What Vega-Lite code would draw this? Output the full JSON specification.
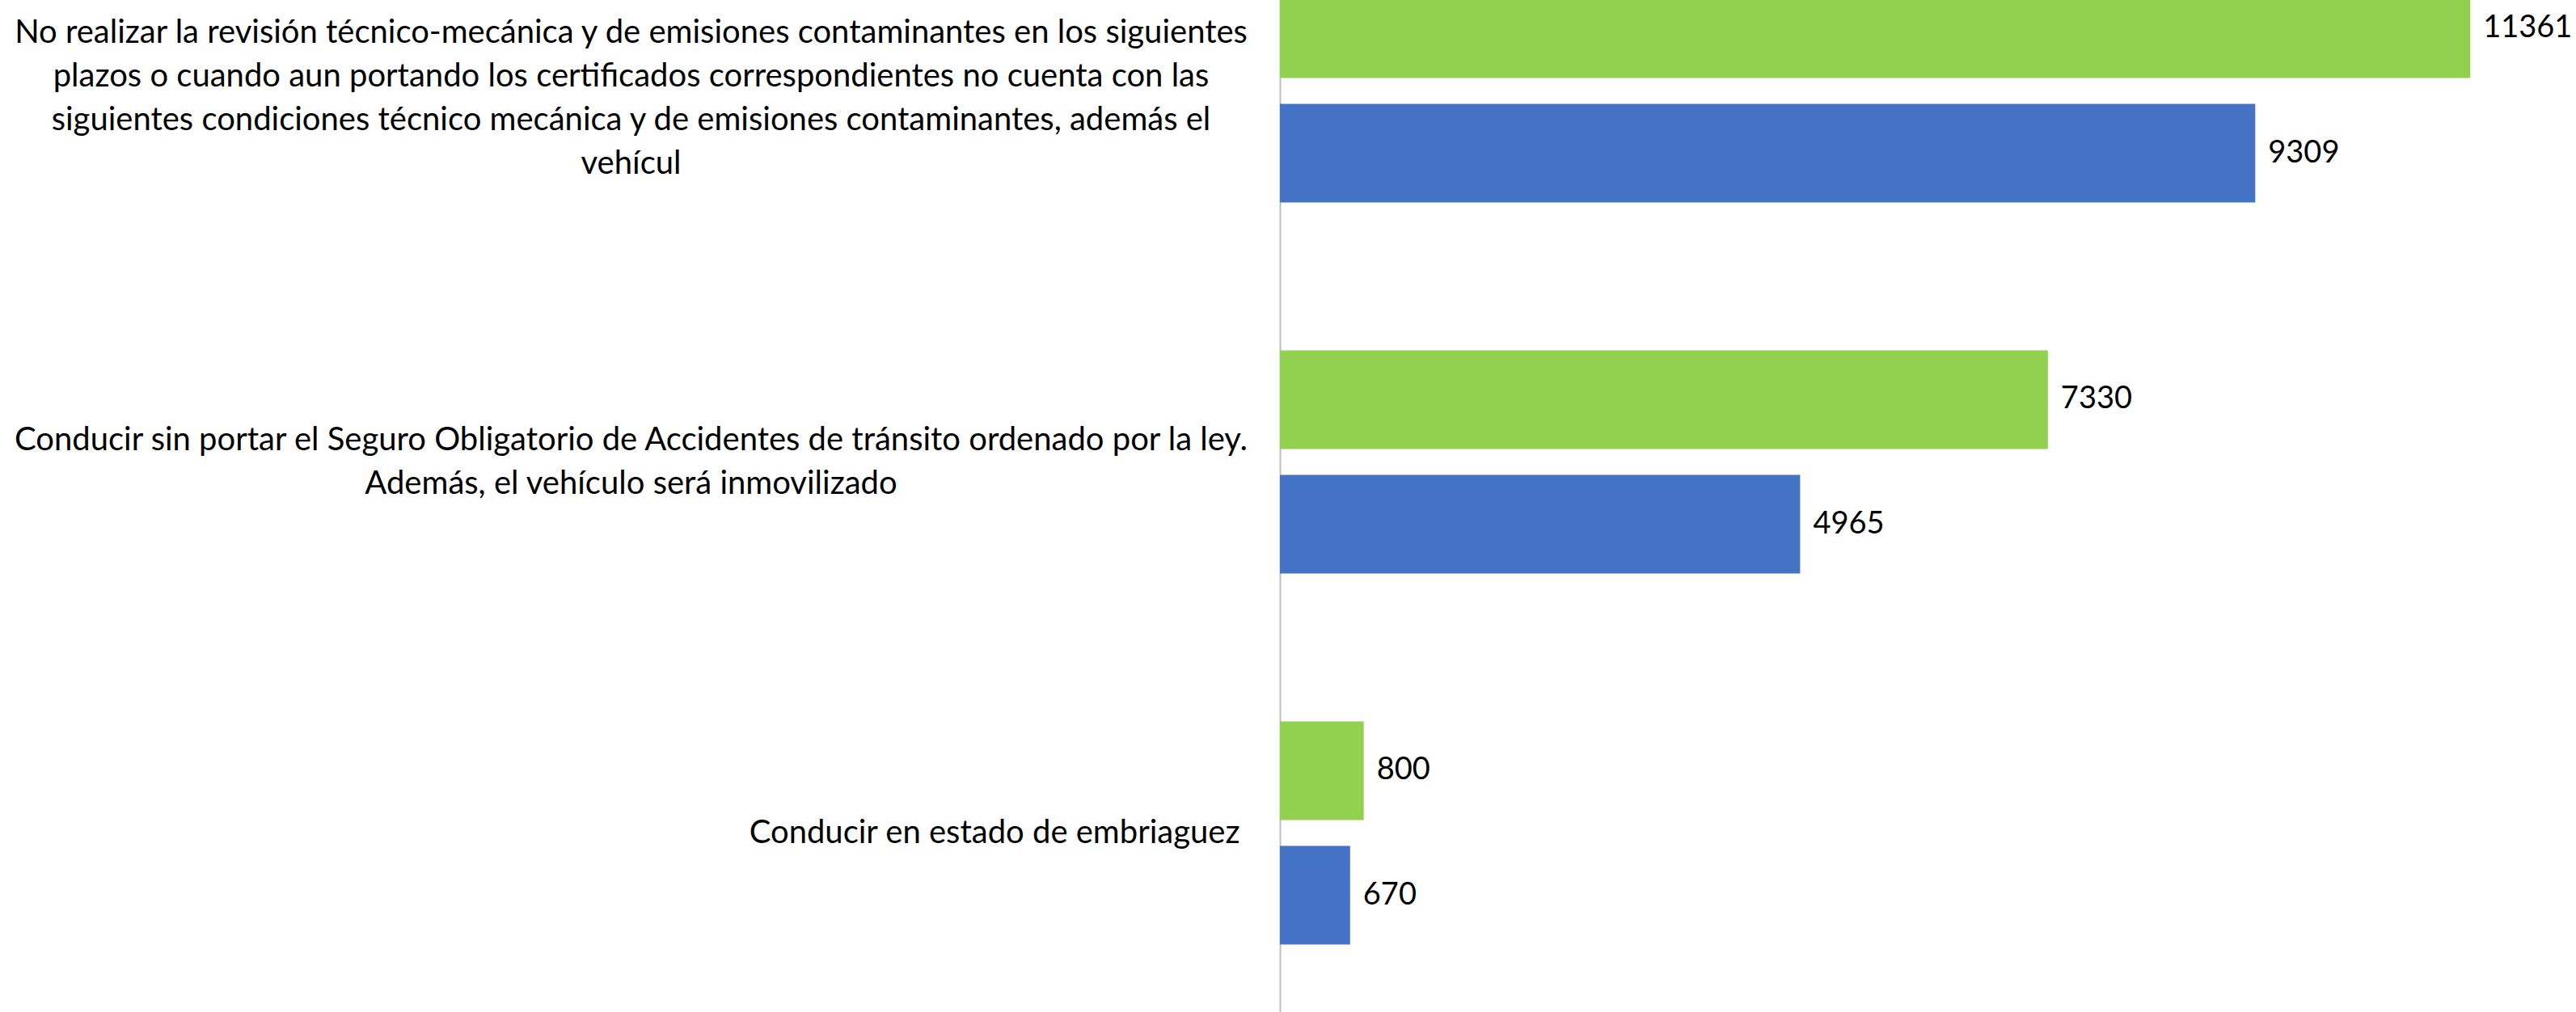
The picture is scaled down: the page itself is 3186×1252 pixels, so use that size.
{
  "$schema": "https://vega.github.io/schema/vega-lite/v6.json",
  "autosize": {"type": "none"},
  "padding": {"left": 1583, "top": 0, "right": 48, "bottom": 0},
  "width": 1555,
  "height": 1252,
  "background": "white",
  "config": {"view": {"stroke": null}},
  "data": {
    "values": [
      {"cat": "No realizar la revisión técnico-mecánica y de emisiones contaminantes en los siguientes|plazos o cuando aun portando los certificados correspondientes no cuenta con las|siguientes condiciones técnico mecánica y de emisiones contaminantes, además el|vehícul", "serie": "Serie 1", "valor": 11361},
      {"cat": "No realizar la revisión técnico-mecánica y de emisiones contaminantes en los siguientes|plazos o cuando aun portando los certificados correspondientes no cuenta con las|siguientes condiciones técnico mecánica y de emisiones contaminantes, además el|vehícul", "serie": "Serie 2", "valor": 9309},
      {"cat": "Conducir sin portar el Seguro Obligatorio de Accidentes de tránsito ordenado por la ley.|Además, el vehículo será inmovilizado", "serie": "Serie 1", "valor": 7330},
      {"cat": "Conducir sin portar el Seguro Obligatorio de Accidentes de tránsito ordenado por la ley.|Además, el vehículo será inmovilizado", "serie": "Serie 2", "valor": 4965},
      {"cat": "Conducir en estado de embriaguez", "serie": "Serie 1", "valor": 800},
      {"cat": "Conducir en estado de embriaguez", "serie": "Serie 2", "valor": 670}
    ]
  },
  "encoding": {
    "y": {
      "field": "cat",
      "type": "nominal",
      "sort": null,
      "scale": {"range": [-117, 1260], "paddingInner": 0, "paddingOuter": 0},
      "axis": {
        "title": null,
        "ticks": false,
        "grid": false,
        "domainColor": "#BFBFBF",
        "domainWidth": 2,
        "labelFont": "Lato",
        "labelFontSize": 40,
        "labelColor": "black",
        "labelLimit": 0,
        "labelPadding": {"condition": {"test": "indexof(datum.value, '|') >= 0", "value": 803}, "value": 50},
        "labelAlign": {"condition": {"test": "indexof(datum.value, '|') >= 0", "value": "center"}, "value": "right"},
        "labelOffset": {"condition": [
          {"test": "indexof(datum.value, 'vehícul') >= 0 && indexof(datum.value, 'No realizar') >= 0", "value": -72},
          {"test": "indexof(datum.value, '|') >= 0", "value": -27}
        ], "value": 0},
        "labelBaseline": "middle",
        "labelLineHeight": 54,
        "labelExpr": "split(datum.value, '|')"
      }
    },
    "yOffset": {
      "field": "serie",
      "type": "nominal",
      "sort": ["Serie 1", "Serie 2"],
      "scale": {"paddingInner": 0.208, "paddingOuter": 0.594}
    },
    "x": {
      "field": "valor",
      "type": "quantitative",
      "scale": {"domain": [0, 12000]},
      "axis": null
    }
  },
  "layer": [
    {
      "mark": {"type": "bar"},
      "encoding": {
        "color": {
          "field": "serie",
          "type": "nominal",
          "scale": {"domain": ["Serie 1", "Serie 2"], "range": ["#92D050", "#4472C4"]},
          "legend": null
        }
      }
    },
    {
      "mark": {"type": "text", "align": "left", "baseline": "middle", "dx": 16, "fontSize": 38, "font": "Lato", "color": "black", "clip": false},
      "encoding": {
        "text": {"field": "valor", "type": "quantitative", "format": "d"}
      }
    }
  ]
}
